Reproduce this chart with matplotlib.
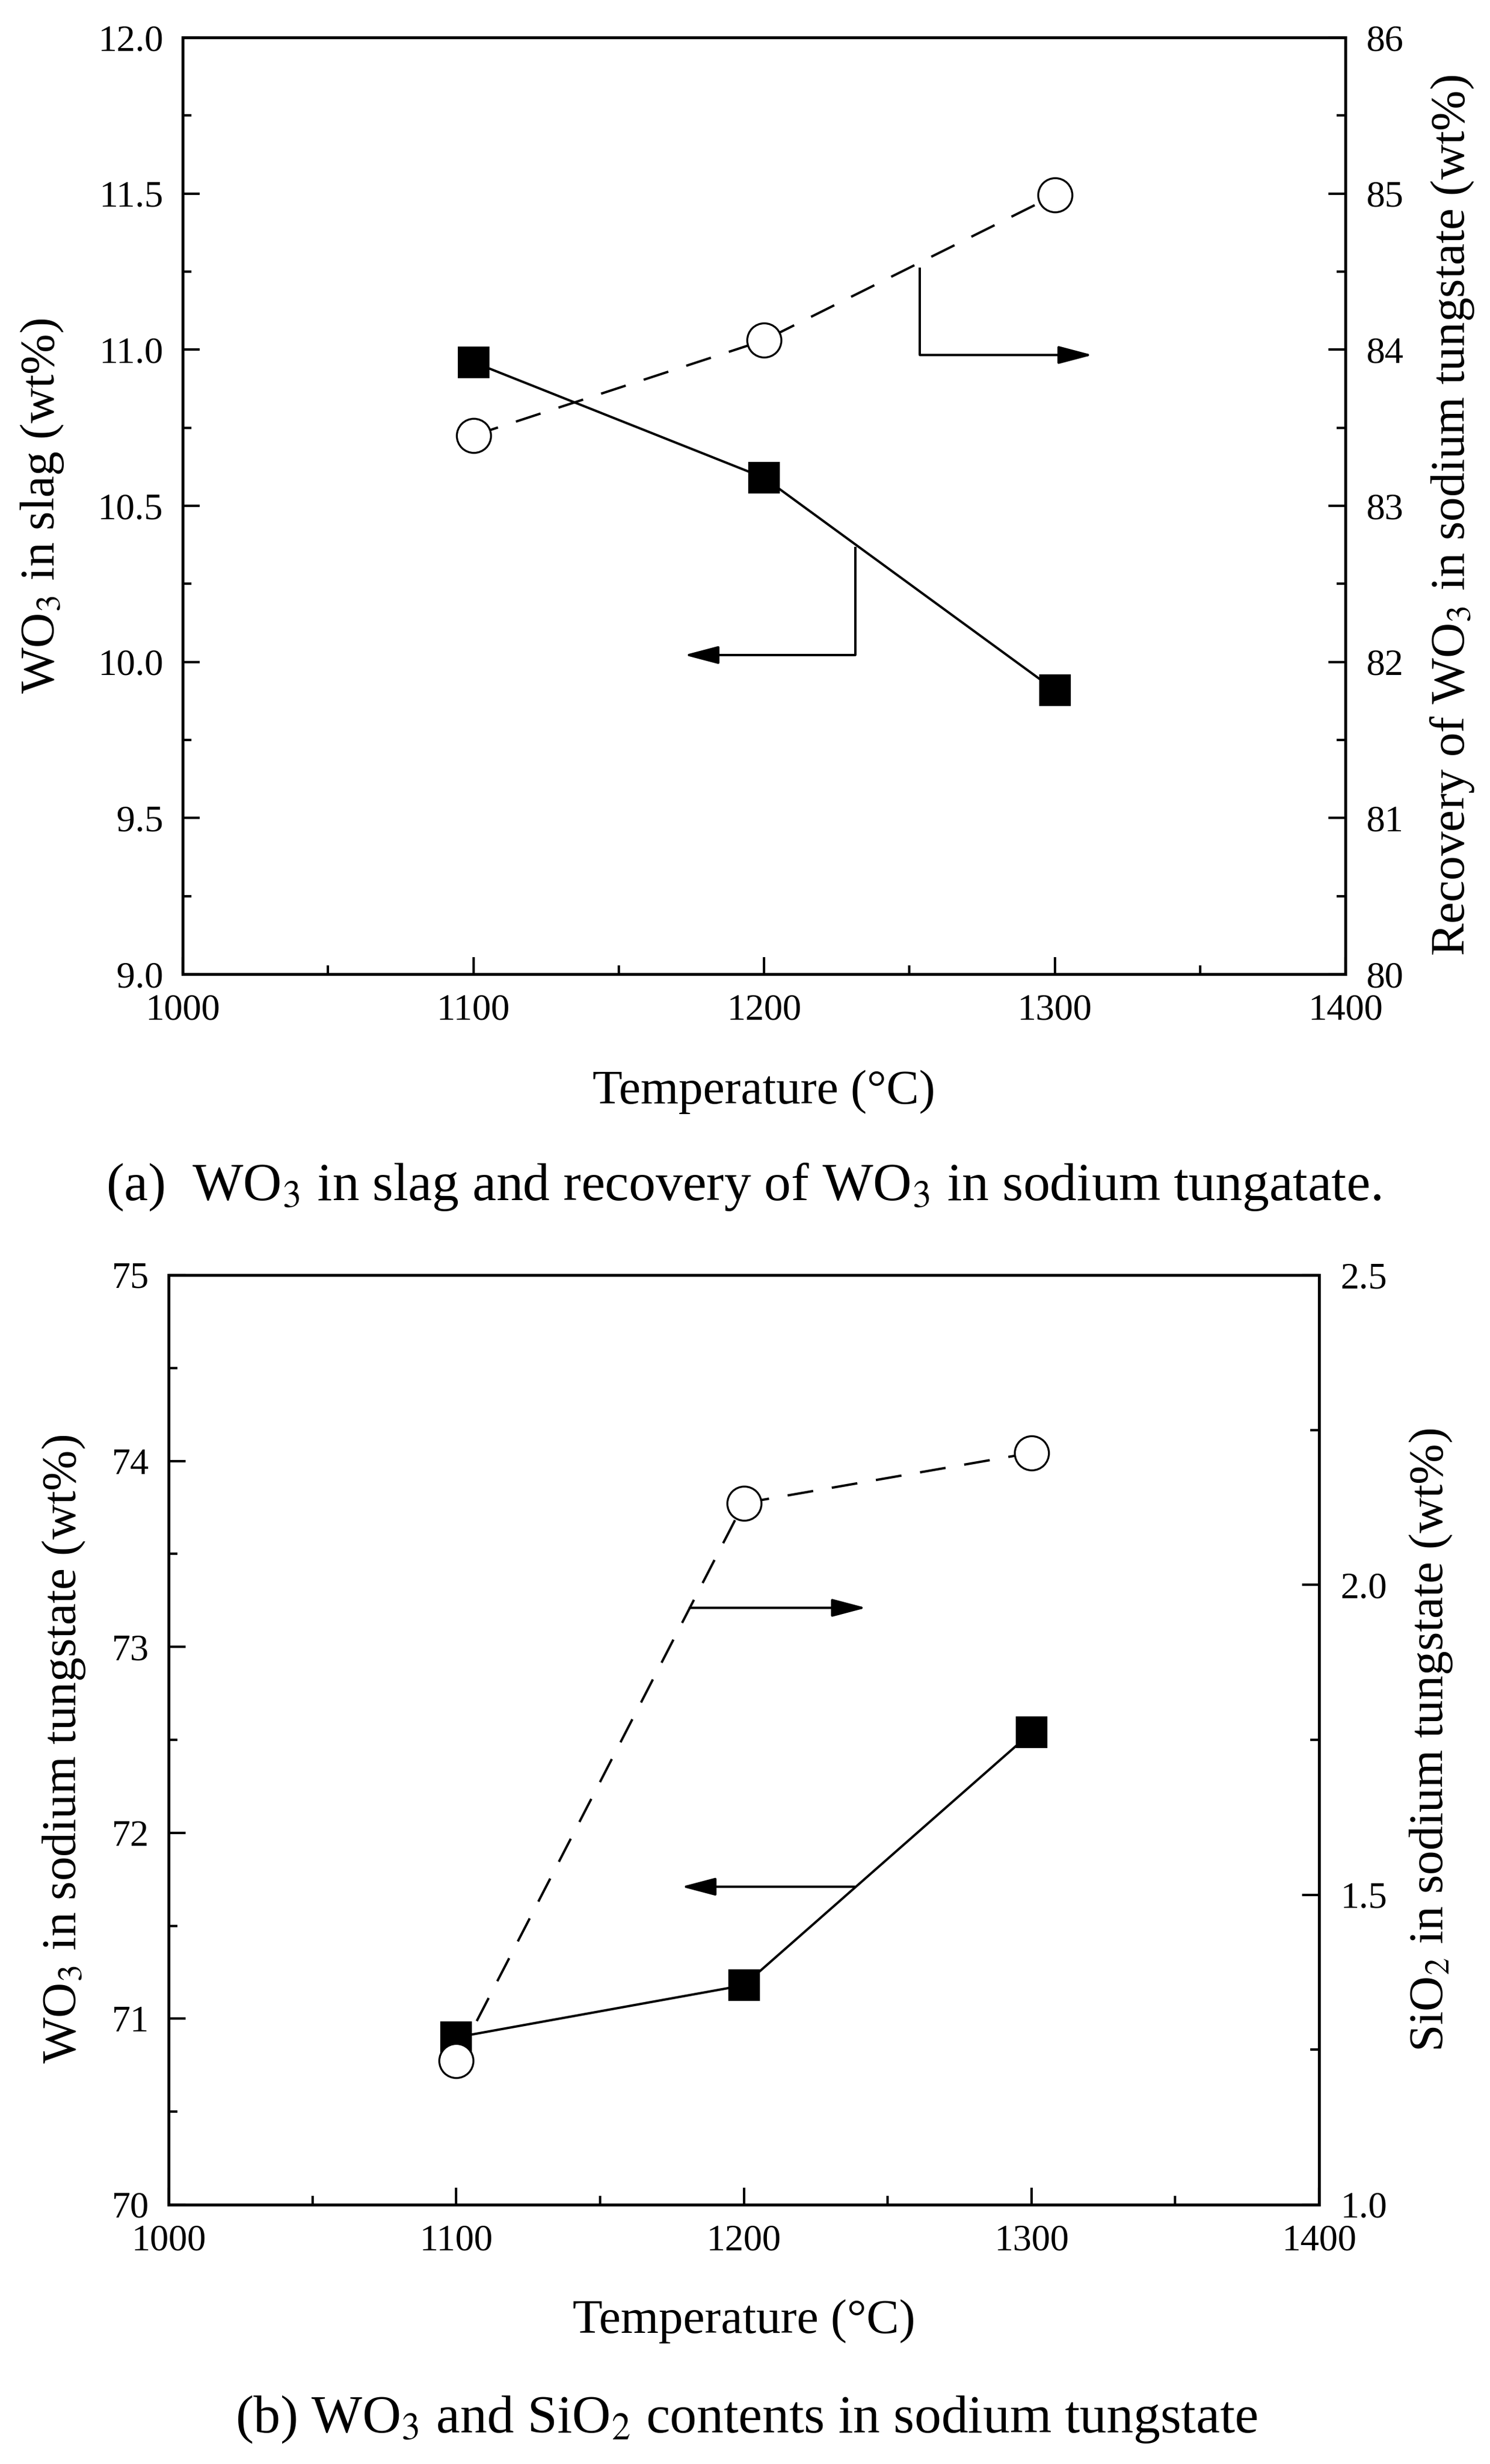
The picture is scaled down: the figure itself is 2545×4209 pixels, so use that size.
import matplotlib
matplotlib.use("Agg")
import matplotlib.pyplot as plt
from matplotlib.ticker import MultipleLocator, FormatStrFormatter

plt.rcParams["font.family"] = ["Liberation Serif", "DejaVu Serif"]
plt.rcParams["mathtext.fontset"] = "stix"

# panel (a)
temp = [1100, 1200, 1300]
wo3_slag = [10.96, 10.59, 9.91]
wo3_recovery = [83.45, 84.06, 84.99]

# panel (b)
wo3_nawo = [70.90, 71.18, 72.54]
sio2_nawo = [1.232, 2.132, 2.213]

# guide arrows, data units of the left axis
a_right_x = [1253.6, 1253.6, 1313.0]
a_right_y = [11.263, 10.983, 10.983]
a_left_x = [1231.4, 1231.4, 1172.6]
a_left_y = [10.369, 10.022, 10.022]
b_right_x = [1181.2, 1242.5]
b_right_y = [73.21, 73.21]
b_left_x = [1238.6, 1178.3]
b_left_y = [71.71, 71.71]

TICK_FS = 46
LABEL_FS = 60
CAP_FS = 66
LW = 2.9
SPINE_LW = 3.4

W, H = 2545, 4209
fig = plt.figure(figsize=(W / 100, H / 100), dpi=100)


def px_axes(left, right, top, bottom):
    return fig.add_axes([left / W, 1 - bottom / H, (right - left) / W, (bottom - top) / H])


def style(ax, ax2, ymaj, ymin, y2maj, y2min, yfmt, y2fmt):
    ax.set_xlim(1000, 1400)
    ax.xaxis.set_major_locator(MultipleLocator(100))
    ax.xaxis.set_minor_locator(MultipleLocator(50))
    ax.yaxis.set_major_locator(MultipleLocator(ymaj))
    ax.yaxis.set_minor_locator(MultipleLocator(ymin))
    ax.yaxis.set_major_formatter(FormatStrFormatter(yfmt))
    ax2.yaxis.set_major_locator(MultipleLocator(y2maj))
    ax2.yaxis.set_minor_locator(MultipleLocator(y2min))
    ax2.yaxis.set_major_formatter(FormatStrFormatter(y2fmt))
    for a in (ax, ax2):
        for s in a.spines.values():
            s.set_linewidth(SPINE_LW)
    ax.tick_params(which="both", direction="in", top=False, right=False,
                   width=3.0, labelsize=TICK_FS, pad=24)
    ax.tick_params(which="major", length=21)
    ax.tick_params(which="minor", length=11)
    ax2.tick_params(which="both", direction="in", left=False, right=True,
                    width=3.0, labelsize=TICK_FS, pad=26)
    ax2.tick_params(which="major", length=21)
    ax2.tick_params(which="minor", length=11)


def arrow(ax, xs, ys):
    if len(xs) > 2:
        ax.plot(xs[:2], ys[:2], "-k", lw=LW, solid_capstyle="butt")
    ax.annotate("", xy=(xs[-1], ys[-1]), xytext=(xs[-2], ys[-2]),
                arrowprops=dict(arrowstyle="-|>,head_length=36,head_width=9.5",
                                mutation_scale=1, lw=LW, color="k",
                                shrinkA=0, shrinkB=0))


marker_sq = dict(marker="s", ms=38, mfc="k", mec="k", mew=1.5)
marker_ci = dict(marker="o", ms=42, mfc="white", mec="k", mew=2.4)

# ---- panel (a)
ax = px_axes(312, 2298, 64, 1664)
ax2 = ax.twinx()
ax.plot(temp, wo3_slag, "-k", lw=LW, **marker_sq)
ax2.plot(temp, wo3_recovery, "k", lw=LW, dashes=(11, 8), **marker_ci)
ax.set_ylim(9.0, 12.0)
ax2.set_ylim(80, 86)
style(ax, ax2, 0.5, 0.25, 1, 0.5, "%.1f", "%d")
arrow(ax, a_right_x, a_right_y)
arrow(ax, a_left_x, a_left_y)
ax.set_xlabel("Temperature (°C)", fontsize=LABEL_FS, va="baseline")
ax.xaxis.set_label_coords(0.5, -0.138)
ax.set_ylabel("WO$_3$ in slag (wt%)", fontsize=LABEL_FS, va="center")
ax.yaxis.set_label_coords(-0.121, 0.5)
ax2.set_ylabel("Recovery of WO$_3$ in sodium tungstate (wt%)", fontsize=LABEL_FS,
               va="center", rotation=90)
ax2.yaxis.set_label_coords(1.092, 0.49)

# ---- panel (b)
bx = px_axes(288, 2253, 2178, 3766)
bx2 = bx.twinx()
bx.plot(temp, wo3_nawo, "-k", lw=LW, **marker_sq)
bx2.plot(temp, sio2_nawo, "k", lw=LW, dashes=(11, 8), **marker_ci)
bx.set_ylim(70, 75)
bx2.set_ylim(1.0, 2.5)
style(bx, bx2, 1, 0.5, 0.5, 0.25, "%d", "%.1f")
arrow(bx, b_right_x, b_right_y)
arrow(bx, b_left_x, b_left_y)
bx.set_xlabel("Temperature (°C)", fontsize=LABEL_FS, va="baseline")
bx.xaxis.set_label_coords(0.5, -0.138)
bx.set_ylabel("WO$_3$ in sodium tungstate (wt%)", fontsize=LABEL_FS, va="center")
bx.yaxis.set_label_coords(-0.091, 0.49)
bx2.set_ylabel("SiO$_2$ in sodium tungstate (wt%)", fontsize=LABEL_FS,
               va="center", rotation=90)
bx2.yaxis.set_label_coords(1.097, 0.5)

# captions
fig.text(0.499, 1 - 2050 / H, "(a)  WO$_3$ in slag and recovery of WO$_3$ in sodium tungatate.",
         ha="center", va="baseline", fontsize=CAP_FS)
fig.text(0.501, 1 - 4155 / H, "(b) WO$_3$ and SiO$_2$ contents in sodium tungstate",
         ha="center", va="baseline", fontsize=CAP_FS)

fig.savefig("out.png", dpi=100, facecolor="white")
